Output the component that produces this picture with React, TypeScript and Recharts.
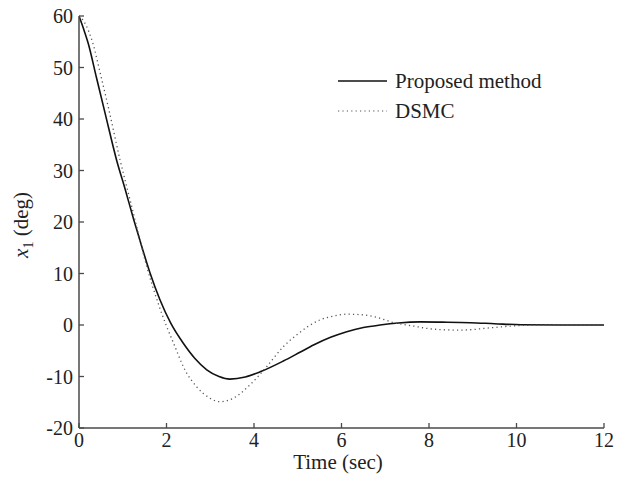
import { Legend, Line, LineChart, XAxis, YAxis } from "recharts";

const timeTicks = [0, 2, 4, 6, 8, 10, 12];
const angleTicks = [-20, -10, 0, 10, 20, 30, 40, 50, 60];

const proposedT = [0, 0.1, 0.21, 0.4, 0.6, 0.86, 1.05, 1.25, 1.45, 1.62, 1.85, 2.1, 2.38, 2.65, 2.92, 3.2, 3.45, 3.8, 4.14, 4.67, 5.05, 5.36, 5.75, 6.12, 6.5, 6.88, 7.3, 7.8, 8.3, 8.94, 9.5, 10.1, 11, 12];
const proposedX1 = [60, 57.6, 54.7, 48.0, 41.0, 32.0, 26.5, 20.5, 14.8, 10.2, 4.9, 0.3, -3.5, -6.5, -8.7, -10.0, -10.5, -10.1, -9.1, -7.0, -5.3, -3.9, -2.4, -1.3, -0.5, 0.0, 0.4, 0.6, 0.55, 0.45, 0.25, 0.05, 0, 0];

const dsmcT = [0, 0.1, 0.33, 0.48, 0.67, 0.94, 1.17, 1.35, 1.55, 1.81, 1.99, 2.16, 2.42, 2.69, 2.99, 3.22, 3.53, 3.91, 4.29, 4.67, 4.98, 5.25, 5.51, 5.8, 6.12, 6.45, 6.8, 7.18, 7.64, 8.1, 8.71, 9.47, 10.08, 10.84, 12];
const dsmcX1 = [60, 59.1, 54.3, 49.1, 42.3, 32.0, 24.2, 18.0, 11.3, 4.2, 0, -3.5, -8.7, -12.0, -14.2, -14.9, -14.2, -11.6, -8.1, -4.2, -1.9, -0.2, 1.0, 1.7, 2.1, 2.0, 1.5, 0.5, -0.2, -0.8, -1.0, -0.5, -0.1, 0, 0];

const proposed = proposedT.map((t, i) => ({ t, v: proposedX1[i] }));
const dsmc = dsmcT.map((t, i) => ({ t, v: dsmcX1[i] }));

const W = 617;
const H = 477;
const LEFT = 79;
const RIGHT = 13;
const TOP = 16;
const BOTTOM = 49;
const FONT = "'Liberation Serif', 'Times New Roman', serif";
const AXIS = "#4a4a4a";

const XTick = (props: any) => {
  const { x, payload } = props;
  const base = H - BOTTOM;
  return (
    <g>
      <line x1={x} x2={x} y1={base} y2={base - 5} stroke={AXIS} strokeWidth={1.3} />
      <text x={x} y={base + 19} textAnchor="middle" fontFamily={FONT} fontSize={20} fill="#222">
        {payload.value}
      </text>
    </g>
  );
};

const YTick = (props: any) => {
  const { y, payload } = props;
  return (
    <g>
      <line x1={LEFT} x2={LEFT + 5} y1={y} y2={y} stroke={AXIS} strokeWidth={1.3} />
      <text x={LEFT - 6} y={y} dy="0.35em" textAnchor="end" fontFamily={FONT} fontSize={20} fill="#222">
        {payload.value}
      </text>
    </g>
  );
};

const renderLegend = () => (
  <div style={{ fontFamily: FONT, fontSize: 21, color: "#222", lineHeight: "30px" }}>
    <div style={{ display: "flex", alignItems: "center" }}>
      <svg width={57} height={10}>
        <line x1={0} x2={49} y1={5} y2={5} stroke="#111" strokeWidth={1.6} />
      </svg>
      <span>Proposed method</span>
    </div>
    <div style={{ display: "flex", alignItems: "center" }}>
      <svg width={57} height={10}>
        <line x1={0} x2={49} y1={5} y2={5} stroke="#555" strokeWidth={1.2} strokeDasharray="1.2 3.2" />
      </svg>
      <span>DSMC</span>
    </div>
  </div>
);

export default function App() {
  return (
    <div style={{ position: "absolute", left: 0, top: 0, width: W, height: H, background: "#fff" }}>
      <LineChart width={W} height={H} margin={{ top: TOP, right: RIGHT, left: 0, bottom: 0 }}>
        <XAxis
          dataKey="t"
          type="number"
          domain={[0, 12]}
          ticks={timeTicks}
          height={BOTTOM}
          tickLine={false}
          tickSize={0}
          tick={<XTick />}
          stroke={AXIS}
          strokeWidth={1.5}
          allowDataOverflow
          label={{
            content: () => (
              <text x={338} y={469} textAnchor="middle" fontFamily={FONT} fontSize={21} fill="#222">
                Time (sec)
              </text>
            ),
          }}
        />
        <YAxis
          type="number"
          domain={[-20, 60]}
          ticks={angleTicks}
          width={LEFT}
          tickLine={false}
          tickSize={0}
          tick={<YTick />}
          stroke={AXIS}
          strokeWidth={1.5}
          label={{
            content: () => (
              <text
                transform="translate(28, 225) rotate(-90)"
                textAnchor="middle"
                fontFamily={FONT}
                fontSize={21}
                fill="#222"
              >
                <tspan fontStyle="italic">x</tspan>
                <tspan fontSize={14} dy={5}>1</tspan>
                <tspan dy={-5}> (deg)</tspan>
              </text>
            ),
          }}
        />
        <Legend
          layout="horizontal"
          verticalAlign="middle"
          align="center"
          content={renderLegend}
          wrapperStyle={{ left: 338, top: 66, width: 270, height: 64 }}
        />
        <Line
          data={proposed}
          dataKey="v"
          type="monotone"
          stroke="#111"
          strokeWidth={1.6}
          dot={false}
          activeDot={false}
          isAnimationActive={false}
        />
        <Line
          data={dsmc}
          dataKey="v"
          type="monotone"
          stroke="#555"
          strokeWidth={1.3}
          strokeDasharray="1.2 3.2"
          dot={false}
          activeDot={false}
          isAnimationActive={false}
        />
      </LineChart>
    </div>
  );
}
